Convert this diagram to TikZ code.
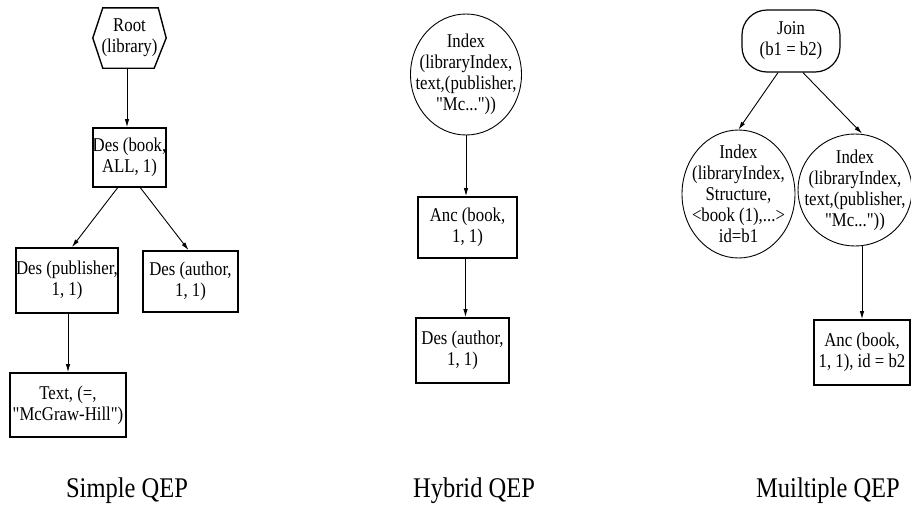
\documentclass[tikz,border=0pt]{standalone}
\usepackage{fontspec}
\setmainfont{Liberation Serif}[FakeStretch=0.86, Ligatures=TeXOff]
\usetikzlibrary{arrows.meta,shapes.geometric}

\newcommand{\opfont}{\fontsize{19.5}{21}\selectfont}
\newcommand{\capfont}{\fontsize{28.5}{30}\selectfont}

\tikzset{
  op/.style={draw, line width=1.8pt, rectangle, inner sep=0pt, align=center, font=\opfont},
  idx/.style={draw, line width=0.9pt, ellipse, inner sep=0pt},
  idxtext/.style={align=center, font=\opfont, inner sep=0pt},
  rootop/.style={rectangle, inner sep=0pt, align=center, font=\opfont},
  hexline/.style={line width=1.4pt, line join=miter},
  joinop/.style={draw, line width=1.2pt, rectangle, rounded corners=25pt, inner sep=0pt,
    align=center, font=\opfont},
  arr/.style={line width=0.9pt, -{Latex[length=8pt,width=4.5pt]}},
  caption/.style={anchor=base, font=\capfont}
}

\begin{document}
\begin{tikzpicture}[x=1pt, y=-1pt]
  \useasboundingbox (0,0) rectangle (911,512);

  % ---- Simple QEP ----
  \node[rootop, minimum width=73pt, minimum height=60pt] (root) at (129.5,38) {Root\\(library)};
  \draw[hexline] ([xshift=10pt]root.north west) -- ([xshift=-8pt]root.north east) -- (root.east)
    -- ([xshift=-12pt]root.south east) -- ([xshift=10pt]root.south west) -- (root.west) -- cycle;
  \node[op, minimum width=73pt, minimum height=59pt] (desbook) at (129.5,157.5) {Des (book,\\ALL, 1)};
  \node[op, minimum width=98pt, minimum height=65pt] (despub) at (67,280.5) {Des (publisher,\\1, 1)};
  \node[op, minimum width=95pt, minimum height=61pt] (desauth) at (190.5,281.5) {Des (author,\\1, 1)};
  \node[op, minimum width=116pt, minimum height=64pt] (txt) at (68,405) {Text, (=,\\"McGraw-Hill")};

  \draw[arr] ([xshift=-2.5pt]root.south) -- ([xshift=-2.5pt]desbook.north);
  \draw[arr] ([xshift=-12pt]desbook.south) -- ([xshift=5pt]despub.north);
  \draw[arr] ([xshift=11pt]desbook.south) -- ([xshift=-2pt]desauth.north);
  \draw[arr] ([xshift=1pt]despub.south) -- ([xshift=1pt]despub.south |- txt.north);

  % ---- Hybrid QEP ----
  \node[idx, minimum width=111pt, minimum height=121pt,
    label={[idxtext]center:Index\\(libraryIndex,\\text,(publisher,\\"Mc..."))}] (hidx) at (466,74.5) {};
  \node[op, minimum width=99pt, minimum height=61pt] (hanc) at (467.5,227.5) {Anc (book,\\1, 1)};
  \node[op, minimum width=93pt, minimum height=65pt] (hdes) at (462.5,350.5) {Des (author,\\1, 1)};

  \draw[arr] (hidx.south) -- (hidx.south |- hanc.north);
  \draw[arr] ([xshift=-2pt]hanc.south) -- ([xshift=-2pt]hanc.south |- hdes.north);

  % ---- Multiple QEP ----
  \node[joinop, minimum width=98pt, minimum height=62pt] (join) at (791,41) {Join\\(b1 = b2)};
  \node[idx, minimum width=113pt, minimum height=128pt,
    label={[idxtext]center:Index\\(libraryIndex,\\Structure,\\<book (1),...>\\id=b1}] (midxa) at (738.5,194) {};
  \node[idx, minimum width=114pt, minimum height=112pt,
    label={[idxtext]center:Index\\(libraryIndex,\\text,(publisher,\\"Mc..."))}] (midxb) at (855,190) {};
  \node[op, minimum width=96pt, minimum height=65pt] (manc) at (862,352.5) {Anc (book,\\1, 1), id = b2};

  \draw[arr] ([xshift=-13pt]join.south) -- (midxa.north);
  \draw[arr] ([xshift=12pt]join.south) -- ([xshift=7pt]midxb.north);
  \draw[arr] ([xshift=7pt,yshift=1pt]midxb.south) -- (manc.north);

  % ---- captions ----
  \node[caption] (capa) at (127,497) {Simple QEP};
  \node[caption] (capb) at (474,497) {Hybrid QEP};
  \node[caption] (capc) at (828,497) {Muiltiple QEP};
\end{tikzpicture}
\end{document}
